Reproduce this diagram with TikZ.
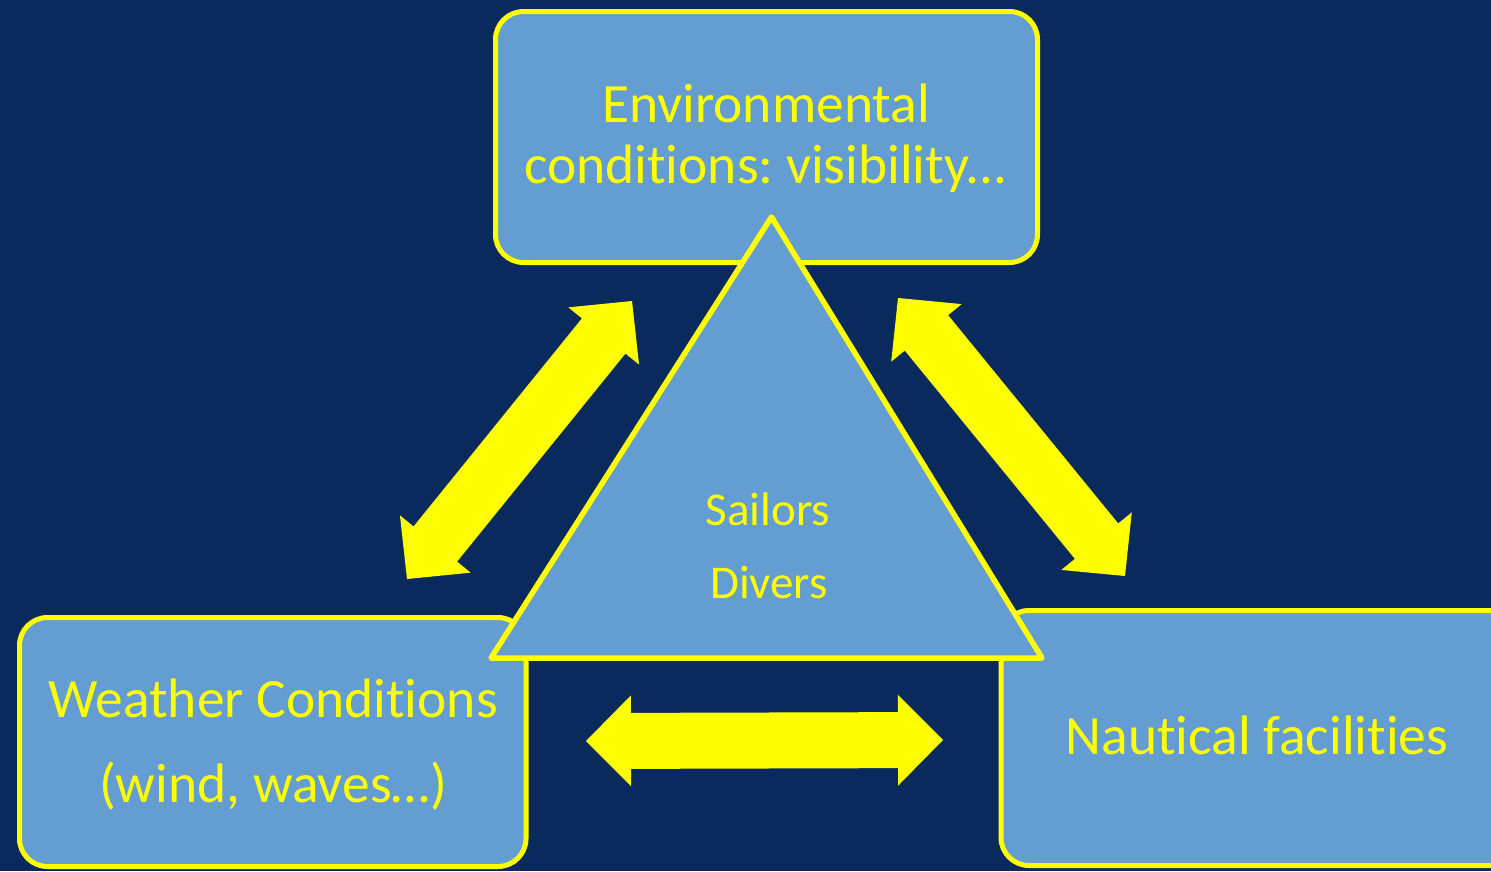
\documentclass[tikz,border=0pt]{standalone}
\usepackage{fontspec}
\setmainfont{Carlito}[Ligatures=NoCommon]
\usetikzlibrary{calc}
\frenchspacing
\definecolor{bg}{RGB}{10,42,94}
\definecolor{boxblue}{RGB}{99,157,209}
\definecolor{ylw}{RGB}{255,255,0}
\tikzset{
  box/.style={draw=ylw, line width=5pt, fill=boxblue, rounded corners=28pt, inner sep=0pt},
  bigtext/.style={text=ylw, font=\fontsize{55.5}{66}\selectfont, anchor=base, inner sep=0pt},
  smalltext/.style={text=ylw, font=\fontsize{47}{55}\selectfont, anchor=base, inner sep=0pt},
  fatarrow/.style={fill=ylw, draw=none},
  tri/.style={draw=ylw, line width=5.5pt, fill=boxblue, line join=round},
}
\newcommand\fatdbl[2]{%
  \coordinate (#1h) at ($(#1)!45pt!(#2)$);
  \coordinate (#2h) at ($(#2)!45pt!(#1)$);
  \fill[fatarrow] (#1) -- ($(#1h)!45.5pt!90:(#2)$) -- ($(#1h)!28pt!90:(#2)$)
    -- ($(#2h)!28pt!-90:(#1)$) -- ($(#2h)!45.5pt!-90:(#1)$) -- (#2)
    -- ($(#2h)!45.5pt!90:(#1)$) -- ($(#2h)!28pt!90:(#1)$)
    -- ($(#1h)!28pt!-90:(#2)$) -- ($(#1h)!45.5pt!-90:(#2)$) -- cycle;
}
\begin{document}
\begin{tikzpicture}[x=1pt,y=-1pt]
  \useasboundingbox (0,0) rectangle (1491,871);
  \fill[bg] (0,0) rectangle (1491,871);
  \clip (0,0) rectangle (1491,871);

  % arrows
  \coordinate (la) at (407,579);
  \coordinate (lb) at (632,301);
  \fatdbl{la}{lb}
  \coordinate (ra) at (898,298);
  \coordinate (rb) at (1125,576);
  \fatdbl{ra}{rb}
  \coordinate (ha) at (586,741);
  \coordinate (hb) at (943,740);
  \fatdbl{ha}{hb}

  % boxes
  \node[box, minimum width=542pt, minimum height=251pt] (env) at (766.5,137) {};
  \node[box, minimum width=506.5pt, minimum height=249pt] (wea) at (272.75,742) {};
  \node[box, minimum width=559pt, minimum height=255pt] (nau) at (1280.5,738) {};

  % triangle
  \coordinate (tA) at (771.5,217);
  \coordinate (tL) at (491,658);
  \coordinate (tR) at (1042,658);
  \draw[tri] (tA) -- (tL) -- (tR) -- cycle;

  % texts
  \node[bigtext] (env1) at (766,122.5) {Environmental};
  \node[bigtext] (env2) at (766,183.5) {conditions: visibility...};
  \node[bigtext] (wea1) at (273,717) {Weather Conditions};
  \node[bigtext] (wea2) at (273,802) {(wind, waves…)};
  \node[bigtext] (nau1) at (1257,754) {Nautical facilities};
  \node[smalltext] (sai) at (768,525) {Sailors};
  \node[smalltext] (div) at (769,598) {Divers};
\end{tikzpicture}
\end{document}
